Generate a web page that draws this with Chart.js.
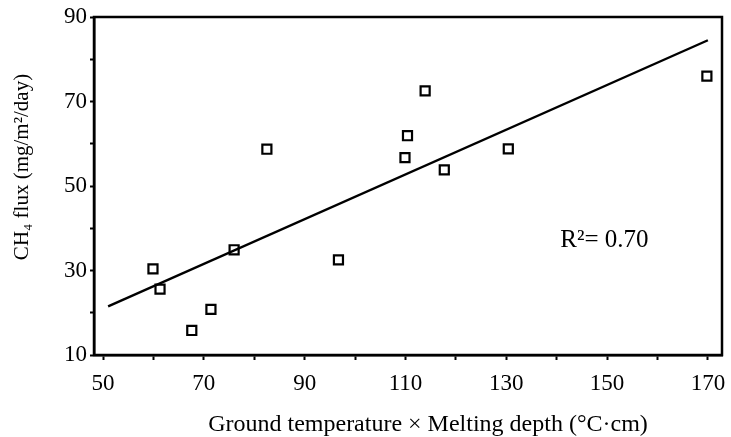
<!DOCTYPE html>
<html>
<head>
<meta charset="utf-8">
<style>
  html, body { margin: 0; padding: 0; background: #fff; }
  #wrap { width: 731px; height: 437px; }
</style>
<script src="https://cdn.jsdelivr.net/npm/chart.js@4/dist/chart.umd.min.js"></script>
</head>
<body>
<div id="wrap"><canvas id="chart" width="731" height="437"></canvas></div>
<script>
// measured sites: ground temperature x melting depth vs CH4 flux
const tempDepth = [59.9, 61.3, 67.6, 71.4, 76.0, 82.5, 96.7, 109.9, 110.4, 113.9, 117.7, 130.4, 169.8];
const ch4Flux   = [30.4, 25.6, 15.8, 20.8, 34.9, 58.7, 32.5, 56.7, 61.9, 72.5, 53.8, 58.8, 76.0];

// regression line end points
const fitX = [51, 170];
const fitY = [21.5, 84.5];

const xTicks = [50, 60, 70, 80, 90, 100, 110, 120, 130, 140, 150, 160, 170];
const yTicks = [10, 20, 30, 40, 50, 60, 70, 80, 90];
const xLabelled = [50, 70, 90, 110, 130, 150, 170];
const yLabelled = [10, 30, 50, 70, 90];

const rSquared = "R\u00B2= 0.70";
const xTitle = "Ground temperature \u00D7 Melting depth (\u00B0C\u00B7cm)";
const yTitle = "CH\u2084 flux (mg/m\u00B2/day)";

const SERIF = "'Liberation Serif', 'Times New Roman', serif";

// frame round the plot + axis titles + R² note
const decorPlugin = {
  id: "decor",
  afterDraw(chart) {
    const { ctx, chartArea: a, scales } = chart;
    ctx.save();
    ctx.strokeStyle = "#000";
    ctx.lineWidth = 2.5;
    ctx.strokeRect(a.left, a.top, a.right - a.left, a.bottom - a.top);

    ctx.fillStyle = "#000";
    ctx.textBaseline = "middle";
    ctx.textAlign = "center";
    ctx.font = `24px ${SERIF}`;
    ctx.fillText(xTitle, a.left + (a.right - a.left) / 2 + 20, 425);

    ctx.save();
    ctx.translate(22, a.top + (a.bottom - a.top) / 2 - 19);
    ctx.rotate(-Math.PI / 2);
    ctx.font = `21px ${SERIF}`;
    ctx.fillText(yTitle, 0, 0);
    ctx.restore();

    ctx.textAlign = "left";
    ctx.font = `25px ${SERIF}`;
    ctx.fillText(rSquared, scales.x.getPixelForValue(140.7), scales.y.getPixelForValue(37.2));
    ctx.restore();
  },
};

// let the layout padding alone decide where the plot box sits
const noLabelOverhang = (s) => {
  s.paddingLeft = 0; s.paddingRight = 0; s.paddingTop = 0; s.paddingBottom = 0;
};

const axisCommon = {
  border: { display: true, color: "#000", width: 2.5 },
  grid: { drawOnChartArea: false, drawTicks: true, color: "#000", tickColor: "#000", tickWidth: 2 },
};

new Chart(document.getElementById("chart"), {
  type: "scatter",
  data: {
    datasets: [
      {
        label: "fit",
        data: fitX.map((x, i) => ({ x, y: fitY[i] })),
        showLine: true,
        borderColor: "#000",
        borderWidth: 2.4,
        pointRadius: 0,
      },
      {
        label: "sites",
        data: tempDepth.map((x, i) => ({ x, y: ch4Flux[i] })),
        pointStyle: "rect",
        pointRadius: 6.4,
        borderColor: "#000",
        backgroundColor: "#fff",
        borderWidth: 2.2,
      },
    ],
  },
  options: {
    responsive: false,
    animation: false,
    layout: { padding: { left: 0, right: 9, top: 17, bottom: 0 } },
    plugins: { legend: { display: false }, tooltip: { enabled: false } },
    scales: {
      x: {
        ...axisCommon,
        type: "linear",
        min: 48.2,
        max: 172.8,
        grid: { ...axisCommon.grid, tickLength: 5 },
        afterBuildTicks: (s) => { s.ticks = xTicks.map((v) => ({ value: v })); },
        afterFit: (s) => { s.height = 82; noLabelOverhang(s); },
        ticks: {
          color: "#000",
          padding: 10,
          maxRotation: 0,
          autoSkip: false,
          font: { family: SERIF, size: 23 },
          callback: (v) => (xLabelled.includes(v) ? String(v) : ""),
        },
      },
      y: {
        ...axisCommon,
        type: "linear",
        min: 10,
        max: 90,
        grid: { ...axisCommon.grid, tickLength: 4 },
        afterBuildTicks: (s) => { s.ticks = yTicks.map((v) => ({ value: v })); },
        afterFit: (s) => { s.width = 94; noLabelOverhang(s); },
        ticks: {
          color: "#000",
          padding: 3,
          autoSkip: false,
          font: { family: SERIF, size: 23 },
          callback: (v) => (yLabelled.includes(v) ? String(v) : ""),
        },
      },
    },
  },
  plugins: [decorPlugin],
});
</script>
</body>
</html>
